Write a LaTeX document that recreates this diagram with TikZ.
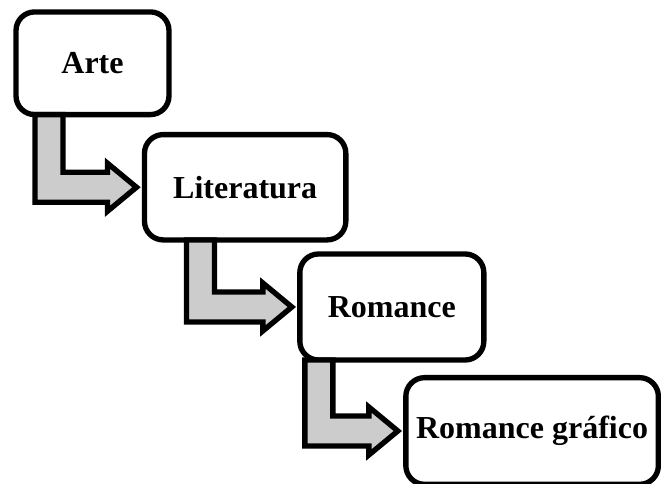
\documentclass[tikz,border=0pt]{standalone}
\usepackage{fontspec}
\setmainfont{Liberation Serif}
\usetikzlibrary{positioning,calc}

\tikzset{
  box/.style={draw, line width=4pt, rounded corners=14pt, fill=white,
    outer sep=0pt, inner sep=0pt, font=\fontsize{24}{28}\selectfont\bfseries},
  flow/.style={draw, fill=black!20, line width=4pt, line join=miter},
}

% bent arrow from the bottom of #1 into the left side of #2, shaft #3 from the left
\newcommand{\stepflow}[3]{%
  \path[flow] ($(#1.south west)+(#3,0)$) -- ++(28,0)
    |- ($(#2.west)+(-37,-15)$) -- ++(0,-9) -- ($(#2.west)+(-8,0)$)
    -- ($(#2.west)+(-37,24)$) -- ++(0,-9) -| ($(#1.south west)+(#3,0)$) -- cycle;}

\begin{document}
\begin{tikzpicture}[x=0.75pt,y=-0.75pt,on grid]
\useasboundingbox (0,0) rectangle (661,483);
\node[box,minimum width=114.75pt,minimum height=77pt] (arte) at (92.5,63.25) {Arte};
\node[box,minimum width=151pt,minimum height=79pt] (literatura) [below right=93pt and 114.5pt of arte] {Literatura};
\node[box,minimum width=138pt,minimum height=79.5pt] (romance) [below right=89.8pt and 110pt of literatura] {Romance};
\node[box,minimum width=189.4pt,minimum height=80pt] (grafico) [below right=93pt and 105.2pt of romance] {Romance gráfico};
\stepflow{arte}{literatura}{19}
\stepflow{literatura}{romance}{42}
\stepflow{romance}{grafico}{5}
\end{tikzpicture}
\end{document}
